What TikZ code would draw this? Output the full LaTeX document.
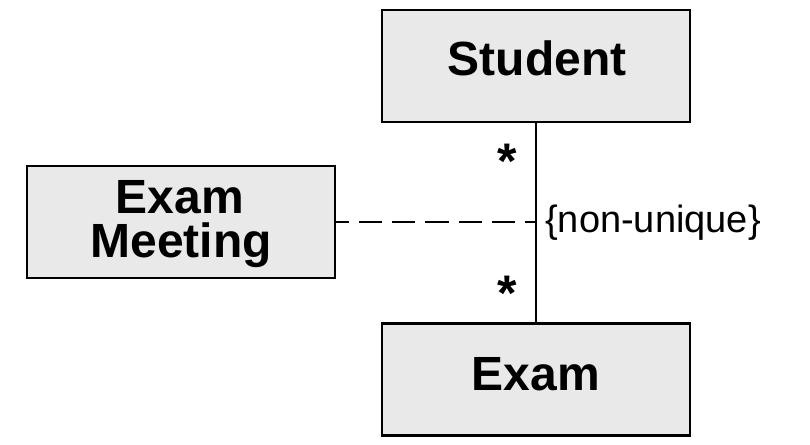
\documentclass[tikz,border=0pt]{standalone}
\usepackage{fontspec}
\setmainfont{Liberation Sans}
\definecolor{boxgray}{RGB}{233,233,233}
\begin{document}
\begin{tikzpicture}[x=1pt,y=-1pt,
  box/.style={draw=black, line width=2.6pt, fill=boxgray, minimum width=308pt, minimum height=112pt, inner sep=0pt},
  title/.style={font=\fontsize{48}{50}\selectfont\bfseries, inner sep=0pt, anchor=base},
  mult/.style={font=\fontsize{50}{50}\selectfont\bfseries, inner sep=0pt, anchor=base},
  constr/.style={font=\fontsize{38}{40}\selectfont, inner sep=0pt, anchor=base west},
  conn/.style={line width=2pt, draw=black},
  dashconn/.style={line width=2pt, draw=black, dash pattern=on 23.3pt off 10pt, dash phase=11pt}]
\useasboundingbox (0,0) rectangle (810,444);
\node[box] (student) at (536,66) {};
\node[box] (meeting) at (181,222) {};
\node[box] (exam) at (536,379.5) {};
\node[title] (studentlbl) at (537,75) {Student};
\node[title] (examlbl) at (536,390) {Exam};
\node[title] (meetlblA) at (180,213) {Exam};
\node[title] (meetlblB) at (181,257) {Meeting};
\draw[conn] (student.south) -- (exam.north);
\coordinate (mid) at (536,222);
\draw[dashconn] (meeting.east) -- (mid);
\node[mult] (multA) at (507,178) {*};
\node[mult] (multB) at (507,310) {*};
\node[constr] (nonuniq) at (545,232) {\{non-unique\}};
\end{tikzpicture}
\end{document}
